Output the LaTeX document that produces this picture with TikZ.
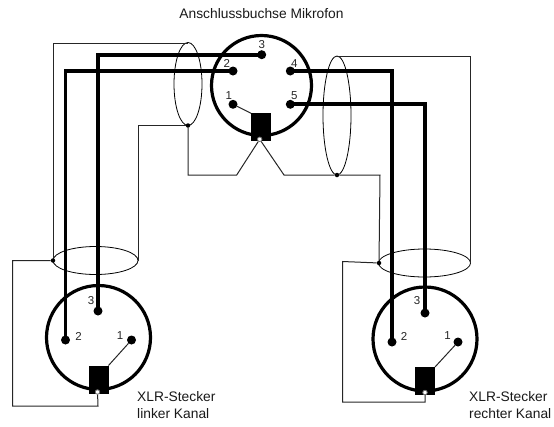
\documentclass[tikz,border=0pt]{standalone}
\usepackage{fontspec}
\setmainfont{Liberation Sans}
\tikzset{
	pin/.style={circle,fill=black,inner sep=0,minimum size=9pt,outer sep=0},
	lbl/.style={font=\fontsize{11.5}{11.5}\selectfont,inner sep=0,text=black!85},
	legend/.style={font=\fontsize{13.8}{17.2}\selectfont,inner sep=0,align=left,anchor=north west,text=black!90},
	shell/.style={draw,circle,line width=3.2pt,inner sep=0,minimum size=#1},
	lug/.style={fill=black,inner sep=0,outer sep=0,minimum width=20pt,minimum height=28pt},
	hole/.style={circle,draw=black!55,fill=white,line width=.8pt,inner sep=0,minimum size=4.5pt},
	tap/.style={circle,fill=black,inner sep=0,minimum size=4.5pt},
	core/.style={line width=3.8pt},
	drain/.style={line width=1pt,black!85},
	screen/.style={line width=.8pt},
}
\begin{document}
\begin{tikzpicture}[x=1pt,y=-1pt]
\useasboundingbox (0,0) rectangle (554,426);
%%%  title and captions
\node[legend,anchor=north] (title) at (261.5,8) {Anschlussbuchse Mikrofon};
\node[legend] (capL) at (137,391) {XLR-Stecker\\linker Kanal};
\node[legend] (capR) at (469,391) {XLR-Stecker\\rechter Kanal};

%%%%%%%%% shells %%%%%%%%
\node[shell=100pt] (socket) at (261.5,85.5) {};
\node[shell=104pt] (plugL) at (98.5,337.5) {};
\node[shell=104pt] (plugR) at (425,339) {};

%%%%%%%%% pins %%%%%%%%
\foreach \n/\x/\y in {1/233/104.3,2/233/71,3/261.7/54.7,4/290.3/71,5/290.3/104.3}{%
	\node[pin] (s\n) at (\x,\y) {};
}
\foreach \n/\x/\y in {1/131.5/340,2/65.5/340,3/98/311}{%
	\node[pin] (l\n) at (\x,\y) {};
}
\foreach \n/\x/\y in {1/458/342,2/392/342,3/425/313}{%
	\node[pin] (r\n) at (\x,\y) {};
}

%%%%%%%%% pin numbers %%%%%%%%
\foreach \n/\t/\x/\y in {s1/1/228.7/95.7,s2/2/226.7/63,s3/3/261.7/45,s4/4/294.3/63.5,s5/5/294.3/96,
	l3/3/91/301,l2/2/78.5/336,l1/1/120/336,r3/3/417/301,r2/2/404/336,r1/1/447.5/336}{%
	\node[lbl] (num\n) at (\x,\y) {\t};
}

%%%%%%%%% ground lugs %%%%%%%%
\node[lug] (lugS) at (261,127.3) {};
\node[lug] (lugL) at (98.5,379.5) {};
\node[lug] (lugR) at (425,381) {};
\node[hole] (holeS) at (259.7,139.3) {};
\node[hole] (holeL) at (97.5,392) {};
\node[hole] (holeR) at (425,392.5) {};

%%%%%%%%% cable screens %%%%%%%%
\node[tap] (tapA) at (188,125.5) {};
\node[tap] (tapB) at (337,175) {};
\node[tap] (tapC) at (53,260.5) {};
\node[tap] (tapD) at (379,263) {};
\draw[screen] (188,84) ellipse (14 and 41.5);
\draw[screen] (337,115.5) ellipse (14 and 59.5);
\draw[screen] (95.5,260.5) ellipse (42.5 and 14);
\draw[screen] (424.5,263) ellipse (46 and 14);

%%%%%%%%% thin wires %%%%%%%%
\coordinate (a1) at (188,43);
\coordinate (a2) at (53,43);
\draw[drain] (a1) -- (a2) -- (tapC);
\coordinate (a3) at (138,125.5);
\coordinate (a4) at (138,260.5);
\draw[drain] (tapA) -- (a3) -- (a4);
\coordinate (b1) at (337,56);
\coordinate (b2) at (470.5,56);
\coordinate (b3) at (470.5,263);
\draw[drain] (b1) -- (b2) -- (b3);
\coordinate (b4) at (380,175);
\draw[drain] (tapB) -- (b4) -- (tapD);
\coordinate (c1) at (188,175);
\coordinate (c2) at (236.7,175);
\coordinate (c3) at (284,175);
\draw[drain] (tapA) -- (c1) -- (c2) -- (holeS) -- (c3) -- (tapB);
\coordinate (d1) at (12.5,260.5);
\coordinate (d2) at (12.5,406);
\coordinate (d3) at (98,406);
\draw[drain] (tapC) -- (d1) -- (d2) -- (d3) -- (holeL);
\coordinate (e1) at (342.5,261.5);
\coordinate (e2) at (342.5,402);
\coordinate (e3) at (425,402);
\draw[drain] (tapD) -- (e1) -- (e2) -- (e3) -- (holeR);
\draw[drain] (s1) -- (lugS.north west);
\draw[drain] (l1) -- (lugL.north east);
\draw[drain] (r1) -- (lugR.north east);

%%%%%%%%% thick wires %%%%%%%%
\draw[core] (s3.center) -| (l3.center);
\draw[core] (s2.center) -| (l2.center);
\draw[core] (s4.center) -| (r2.center);
\draw[core] (s5.center) -| (r3.center);
\end{tikzpicture}
\end{document}
